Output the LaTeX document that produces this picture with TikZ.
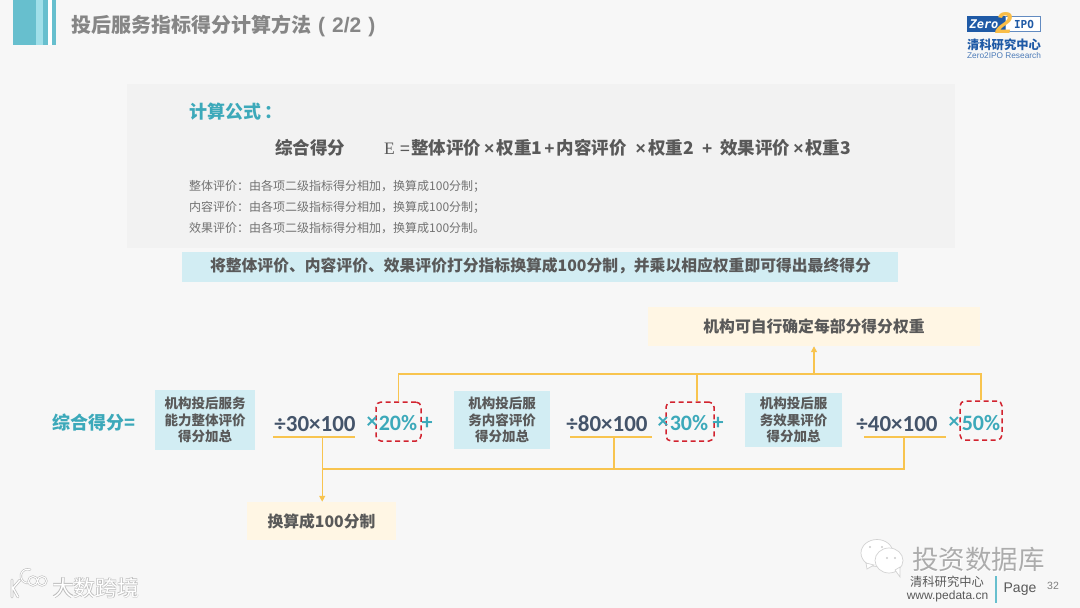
\documentclass[tikz,border=0pt]{standalone}
\usepackage{fontspec}
\setmainfont{Noto Sans CJK SC}
\newfontfamily\latinnum{Carlito}
\newfontfamily\latinsans{Liberation Sans}
\newfontfamily\latinserif{Liberation Serif}
\newfontfamily\latinmono{DejaVu Sans Mono}
\usetikzlibrary{calc,arrows.meta}
\definecolor{pagebg}{HTML}{F7F7F7}
\definecolor{panelgray}{HTML}{F2F2F2}
\definecolor{tealtxt}{HTML}{3CA9BA}
\definecolor{tealbar}{HTML}{67BFCE}
\definecolor{lightbar}{HTML}{A0DFE9}
\definecolor{bandblue}{HTML}{D2EDF3}
\definecolor{noteyellow}{HTML}{FFF6E4}
\definecolor{busyellow}{HTML}{F8C44F}
\definecolor{darktxt}{HTML}{595959}
\definecolor{numtxt}{HTML}{44546A}
\definecolor{dashred}{HTML}{D2232F}
\definecolor{logoblue}{HTML}{1F5AA6}
\newcommand{\fsz}[1]{\fontsize{#1}{#1}\selectfont}
\newcommand{\lsign}[3]{\hspace{#1pt}{\latinsans #3}\hspace{#2pt}}
\tikzset{
  bluebox/.style={fill=bandblue, inner sep=0pt, align=center, text=darktxt,
    font=\fsz{13.5}\bfseries},
  notebox/.style={fill=noteyellow, inner sep=0pt, text=darktxt, font=\fsz{15.8}\bfseries},
  calcnum/.style={text=numtxt, font=\latinnum\fsz{23}\bfseries, inner sep=0pt},
  pctbox/.style={draw=dashred, line width=1.5pt, dash pattern=on 5pt off 3.5pt,
    rounded corners=5pt, inner sep=0pt},
  opmark/.style={text=tealtxt, font=\latinnum\fsz{22}\bfseries, inner sep=0pt},
  busline/.style={draw=busyellow, line width=1.2pt},
  underbar/.style={draw=busyellow, line width=1.6pt},
  tipline/.style={busline, -{Triangle[length=6pt,width=6pt]}},
  smalltxt/.style={anchor=west, inner sep=0pt, text=darktxt!85, font=\fsz{12}},
}
\begin{document}
\begin{tikzpicture}[x=1pt, y=-1pt]
  \useasboundingbox (0,0) rectangle (1080,608);
  \fill[pagebg] (0,0) rectangle (1080,608);

  % 页眉
  \fill[tealbar]  (13,0) rectangle (36,45);
  \fill[lightbar] (36,0) rectangle (43,45);
  \fill[tealbar]  (43,0) rectangle (48,45);
  \fill[white]    (48,0) rectangle (52,45);
  \fill[tealbar]  (52,0) rectangle (56,45);
  \node[anchor=west, inner sep=0pt, text=gray!95, font=\fsz{20}\bfseries] (title) at (71,26)
    {投后服务指标得分计算方法{\latinsans\fsz{21}\hspace{7pt}(\hspace{7pt}2/2\hspace{7pt})}};

  % logo
  \fill[logoblue] (967,16) rectangle (1005,32);
  \draw[logoblue!70, fill=white, line width=1pt] (1005,16.5) rectangle (1040,31.5);
  \node[inner sep=0pt, text=white, font=\latinmono\fsz{12}\bfseries\itshape] (logoZero) at (984,24) {Zero};
  \node[inner sep=0pt, text=logoblue, font=\latinmono\fsz{11}\bfseries] (logoIpo) at (1024,24) {IPO};
  \node[inner sep=0pt, text=busyellow!90!orange, font=\latinsans\fsz{30}\bfseries\itshape] (logoTwo) at (1004,23) {2};
  \node[inner sep=0pt, text=logoblue, font=\fsz{12.3}\bfseries] (logoName) at (1004,45) {清科研究中心};
  \node[inner sep=0pt, text=logoblue!80, font=\latinsans\fsz{8.3}] (logoEn) at (1004,55.5) {Zero2IPO Research};

  % 计算公式
  \fill[panelgray] (127,84) rectangle (955,248);
  \node[anchor=west, inner sep=0pt, text=tealtxt, font=\fsz{18}\bfseries] (formulaHead) at (189,112) {计算公式\hspace{3pt}：};
  \node[anchor=west, inner sep=0pt, text=darktxt, font=\fsz{17.5}\bfseries] (scoreName) at (275,148) {综合得分};
  \node[anchor=west, inner sep=0pt, text=darktxt, font=\fsz{17.5}\bfseries] (formula) at (384,148)
    {{\latinserif\mdseries E\hspace{5pt}}{\latinsans\mdseries =}\hspace{1pt}整体评价\lsign{3}{2.5}{×}权重1\lsign{2}{2}{+}内容评价\lsign{9}{2.5}{×}权重2\lsign{8}{8}{+}效果评价\lsign{3}{1.5}{×}权重3};
  \node[smalltxt] (noteA) at (189,186) {整体评价：由各项二级指标得分相加，换算成100分制；};
  \node[smalltxt] (noteB) at (189,207) {内容评价：由各项二级指标得分相加，换算成100分制；};
  \node[smalltxt] (noteC) at (189,228) {效果评价：由各项二级指标得分相加，换算成100分制。};

  \fill[bandblue] (182,252) rectangle (898,282);
  \node[inner sep=0pt, text=darktxt, font=\fsz{15.8}\bfseries] (bandTxt) at (540.5,266)
    {将整体评价、内容评价、效果评价打分指标换算成100分制，并乘以相应权重即可得出最终得分};

  % 说明框
  \node[notebox, minimum width=332pt, minimum height=39pt] (weightNote) at (814,326.5) {机构可自行确定每部分得分权重};
  \node[notebox, minimum width=149pt, minimum height=38pt] (unitNote) at (321.5,521) {换算成100分制};

  % 算式
  \node[anchor=west, inner sep=0pt, text=tealtxt, font=\fsz{18}\bfseries] (total) at (52,423) {综合得分=};

  \node[bluebox, minimum width=100pt, minimum height=60pt] (partA) at (205,420) {机构投后服务\\[3pt]能力整体评价\\[3pt]得分加总};
  \node[bluebox, minimum width=96pt, minimum height=58pt] (partB) at (502,420) {机构投后服\\[3pt]务内容评价\\[3pt]得分加总};
  \node[bluebox, minimum width=97pt, minimum height=54pt] (partC) at (793.5,420) {机构投后服\\[3pt]务效果评价\\[3pt]得分加总};

  \node[calcnum] (calcA) at (315,424) {÷30×100};
  \node[calcnum] (calcB) at (607,424) {÷80×100};
  \node[calcnum] (calcC) at (897,424) {÷40×100};

  \node[pctbox, minimum width=45pt, minimum height=39pt] (pctA) at (398.5,421.5) {};
  \node[pctbox, minimum width=48pt, minimum height=39pt] (pctB) at (690,421.5) {};
  \node[pctbox, minimum width=42pt, minimum height=39pt] (pctC) at (981,420.5) {};

  \node[opmark] (timesA) at (372,423) {×};
  \node[opmark] (valueA) at (398,423) {20\%};
  \node[opmark] (plusA)  at (427,423) {+};
  \node[opmark] (timesB) at (663,423) {×};
  \node[opmark] (valueB) at (689,423) {30\%};
  \node[opmark] (plusB)  at (718,423) {+};
  \node[opmark] (timesC) at (954,423) {×};
  \node[opmark] (valueC) at (981,423) {50\%};

  % 连线
  \coordinate (busT) at (0,374);
  \coordinate (busB) at (0,469);
  \coordinate (barAl) at (273,437);
  \coordinate (barAr) at (355,437);
  \coordinate (barBl) at (570,437);
  \coordinate (barBr) at (652,437);
  \coordinate (barCl) at (864,437);
  \coordinate (barCr) at (946,437);
  \coordinate (barA) at ($(barAl)!0.6!(barAr)$);
  \coordinate (barB) at ($(barBl)!0.537!(barBr)$);
  \coordinate (barC) at ($(barCl)!0.488!(barCr)$);
  \coordinate (dropB) at ($(pctB.north)+(7,0)$);

  \draw[underbar] (barAl) -- (barAr);
  \draw[underbar] (barBl) -- (barBr);
  \draw[underbar] (barCl) -- (barCr);

  \draw[busline] (pctA.north) -- (pctA.north |- busT) -- (pctC.north |- busT) -- (pctC.north);
  \draw[busline] (dropB) -- (dropB |- busT);
  \draw[tipline] (weightNote.south |- busT) -- (weightNote.south);

  \draw[busline] (barA |- busB) -- (barC |- busB) -- (barC);
  \draw[busline] (barB) -- (barB |- busB);
  \draw[tipline] (barA) -- (barA |- unitNote.north);

  % 水印与页脚
  \fill[white, draw=gray!35, line width=0.7pt] (877,553) ellipse (16 and 13.5);
  \fill[white, draw=gray!35, line width=0.7pt] (866,563) -- (867,569) -- (874,565) -- cycle;
  \fill[white, draw=gray!35, line width=0.7pt] (889,560.5) ellipse (14 and 12.5);
  \fill[white, draw=gray!35, line width=0.7pt] (895,570) -- (900,577) -- (900,567) -- cycle;
  \fill[gray!40] (870,547) circle (1.2) (882,547) circle (1.2) (887,558) circle (1.1) (895,558) circle (1.1);
  \node[inner sep=0pt, text=white, font=\fsz{26.5}] (wmarkLow) at (979,560) {投资数据库};
  \node[inner sep=0pt, text=gray!65, font=\fsz{26.5}] (wmark) at (978.5,559) {投资数据库};
  \node[inner sep=0pt, text=darktxt, font=\fsz{12.3}] (footName) at (947,582) {清科研究中心};
  \node[inner sep=0pt, text=darktxt, font=\latinsans\fsz{12}] (footUrl) at (947.5,596.5) {www.pedata.cn};
  \draw[tealbar, line width=2pt] (996,576) -- (996,603);
  \node[inner sep=0pt, text=darktxt, font=\latinsans\fsz{14}] (footPage) at (1020,589) {Page};
  \node[inner sep=0pt, text=gray, font=\latinsans\fsz{10.5}] (footNum) at (1053,586) {32};

  \begin{scope}[line cap=round]
    \draw[gray!50, line width=2.8pt] (12,580) -- (12,597) (20,580) -- (13,588) -- (18,597);
    \draw[white, line width=1.4pt] (12,580) -- (12,597) (20,580) -- (13,588) -- (18,597);
    \draw[gray!50, line width=2.2pt] (29,583) arc (80:290:7) (33,581) circle (4.5) (42,581) circle (4.5);
    \draw[white, line width=1pt] (29,583) arc (80:290:7) (33,581) circle (4.5) (42,581) circle (4.5);
  \end{scope}
  \node[inner sep=0pt, text=gray!55, font=\fsz{22}\bfseries] (wmarkB) at (96,588) {大数跨境};
  \node[inner sep=0pt, text=white, font=\fsz{22}] (wmarkBtop) at (96,588) {大数跨境};
\end{tikzpicture}
\end{document}
